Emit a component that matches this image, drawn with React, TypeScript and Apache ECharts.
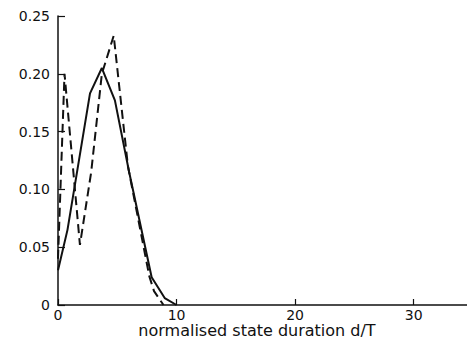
import React, { useEffect, useRef } from "react";
import * as echarts from "echarts";

const solidX = [0, 0.8, 2.7, 3.7, 4.8, 6.0, 7.9, 9.0, 10.0];
const solidY = [0.03, 0.065, 0.183, 0.205, 0.177, 0.115, 0.024, 0.006, 0];

const dashedX = [0, 0.55, 1.85, 2.8, 3.7, 4.7, 5.9, 7.7, 8.1, 8.9];
const dashedY = [0.04, 0.2, 0.052, 0.115, 0.2, 0.233, 0.12, 0.025, 0.012, 0];

const xTicks = [0, 10, 20, 30];
const yTicks = [0, 0.05, 0.1, 0.15, 0.2, 0.25];
const xAxisName = "normalised state duration d/T";

const FONT = "DejaVu Sans, Liberation Sans, sans-serif";

export default function App() {
  const ref = useRef<HTMLDivElement>(null);
  useEffect(() => {
    if (!ref.current) return;
    const chart = echarts.init(ref.current, null, { renderer: "svg" });
    const zip = (xs: number[], ys: number[]) => xs.map((x, i) => [x, ys[i]]);
    chart.setOption({
      animation: false,
      backgroundColor: "#ffffff",
      grid: {
        left: 58,
        right: 0,
        top: 16,
        bottom: 36,
        containLabel: false,
        outerBoundsMode: "none",
      },
      xAxis: {
        type: "value",
        min: 0,
        max: 34.5,
        interval: 10,
        name: xAxisName,
        nameLocation: "middle",
        nameGap: 17,
        nameMoveOverlap: false,
        nameTextStyle: {
          fontFamily: FONT,
          fontSize: 16,
          color: "#111",
          padding: [0, 11, 0, 0],
        },
        axisLine: { show: true, lineStyle: { color: "#111", width: 1.5 } },
        axisTick: {
          show: true,
          inside: true,
          length: 6,
          lineStyle: { color: "#111", width: 1.2 },
        },
        splitLine: { show: false },
        axisLabel: {
          fontFamily: FONT,
          fontSize: 14,
          color: "#111",
          margin: 3,
          showMaxLabel: false,
          formatter: (v: number) => (xTicks.includes(v) ? String(v) : ""),
        },
      },
      yAxis: {
        type: "value",
        min: 0,
        max: 0.25,
        interval: 0.05,
        axisLine: { show: true, lineStyle: { color: "#111", width: 1.5 } },
        axisTick: {
          show: true,
          inside: true,
          length: 7,
          lineStyle: { color: "#111", width: 1.2 },
        },
        splitLine: { show: false },
        axisLabel: {
          fontFamily: FONT,
          fontSize: 14,
          color: "#111",
          margin: 8,
          formatter: (v: number) => {
            const t = yTicks.find((y) => Math.abs(y - v) < 1e-9);
            if (t === undefined) return "";
            return t === 0 ? "0" : t.toFixed(2);
          },
        },
      },
      series: [
        {
          type: "line",
          data: zip(solidX, solidY),
          symbol: "none",
          lineStyle: { color: "#111", width: 2 },
        },
        {
          type: "line",
          data: zip(dashedX, dashedY),
          symbol: "none",
          lineStyle: { color: "#111", width: 2, type: [9, 5] },
        },
      ],
    });
    return () => chart.dispose();
  }, []);
  return (
    <div
      ref={ref}
      style={{ position: "fixed", left: 0, top: 0, width: 467, height: 341 }}
    />
  );
}
